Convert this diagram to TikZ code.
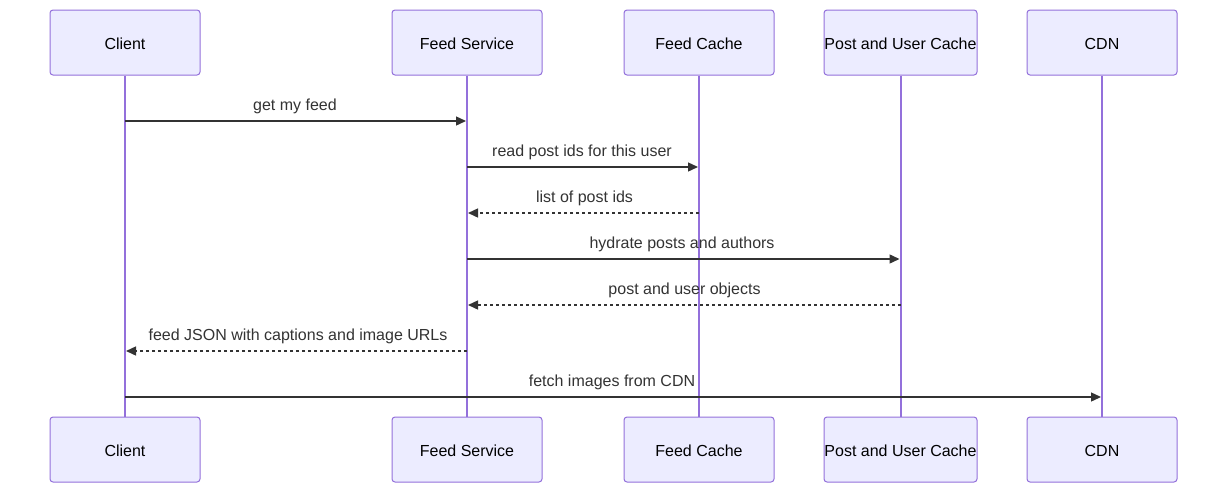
\documentclass[tikz,border=0pt]{standalone}
\usepackage{fontspec}
\setmainfont{Liberation Sans}
\usetikzlibrary{arrows.meta}
\definecolor{actfill}{HTML}{ECECFF}
\definecolor{actline}{HTML}{9370DB}
\definecolor{msg}{HTML}{333333}
\tikzset{
  actor/.style={draw=actline, fill=actfill, line width=1pt, rounded corners=3pt,
    minimum width=150pt, minimum height=65pt, inner sep=0pt, text=black,
    text height=14.5pt, text depth=0pt,
    font=\fontsize{16pt}{19pt}\selectfont},
  life/.style={draw=actline, line width=2pt},
  msgline/.style={draw=msg, line width=1.4pt, -{Triangle[length=10pt,width=9pt]}},
  reply/.style={msgline, dash pattern=on 3pt off 3pt},
  lbl/.style={text=msg, font=\fontsize{16pt}{19pt}\selectfont, inner sep=0pt}
}
\begin{document}
\begin{tikzpicture}[x=1pt,y=-1pt]
\useasboundingbox (0,0) rectangle (1227,493);
% top actors
\node[actor] (c1) at (125,42.5) {Client};
\node[actor] (f1) at (467,42.5) {Feed Service};
\node[actor] (k1) at (699,42.5) {Feed Cache};
\node[actor, minimum width=153pt] (p1) at (900.5,42.5) {Post and User Cache};
\node[actor] (d1) at (1102,42.5) {CDN};
% bottom actors
\node[actor] (c2) at (125,449.5) {Client};
\node[actor] (f2) at (467,449.5) {Feed Service};
\node[actor] (k2) at (699,449.5) {Feed Cache};
\node[actor, minimum width=153pt] (p2) at (900.5,449.5) {Post and User Cache};
\node[actor] (d2) at (1102,449.5) {CDN};
% lifelines
\draw[life] (c1.south) -- (c2.north);
\draw[life] (f1.south) -- (f2.north);
\draw[life] (k1.south) -- (k2.north);
\draw[life] (p1.south) -- (p2.north);
\draw[life] (d1.south) -- (d2.north);
% message endpoints
\coordinate (m1a) at (125,121);   \coordinate (m1b) at (466,121);
\coordinate (m2a) at (467,167);   \coordinate (m2b) at (698,167);
\coordinate (m3a) at (699,213);   \coordinate (m3b) at (468,213);
\coordinate (m4a) at (467,259);   \coordinate (m4b) at (899.5,259);
\coordinate (m5a) at (900.5,305); \coordinate (m5b) at (468,305);
\coordinate (m6a) at (467,351);   \coordinate (m6b) at (126,351);
\coordinate (m7a) at (125,397);   \coordinate (m7b) at (1101,397);
% messages
\draw[msgline] (m1a) -- (m1b);
\draw[msgline] (m2a) -- (m2b);
\draw[reply] (m3a) -- (m3b);
\draw[msgline] (m4a) -- (m4b);
\draw[reply] (m5a) -- (m5b);
\draw[reply] (m6a) -- (m6b);
\draw[msgline] (m7a) -- (m7b);
% labels
\node[lbl] (l1) at (295,106) {get my feed};
\node[lbl] (l2) at (582,152) {read post ids for this user};
\node[lbl] (l3) at (584.5,198) {list of post ids};
\node[lbl] (l4) at (682,244) {hydrate posts and authors};
\node[lbl] (l5) at (684.5,290) {post and user objects};
\node[lbl] (l6) at (298,336) {feed JSON with captions and image URLs};
\node[lbl] (l7) at (612,382) {fetch images from CDN};
\end{tikzpicture}
\end{document}
